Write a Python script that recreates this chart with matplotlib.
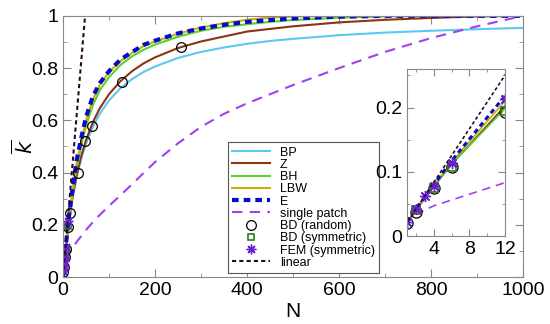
import matplotlib
matplotlib.use("Agg")
import matplotlib.pyplot as plt
from matplotlib.ticker import MultipleLocator, FuncFormatter

plt.rcParams['font.family'] = ['Liberation Sans', 'DejaVu Sans']

# curves sampled along N
curve_N = [0, 1, 2, 4, 6, 12, 20, 30, 40, 50, 65, 80, 100, 125, 150, 175, 200, 250, 300, 350,
           400, 450, 500, 600, 700, 800, 900, 1000]
bp = [0, 0.0204, 0.040, 0.0769, 0.111, 0.200, 0.294, 0.385, 0.455, 0.510, 0.575, 0.625, 0.676,
      0.723, 0.758, 0.785, 0.806, 0.839, 0.862, 0.879, 0.893, 0.904, 0.912, 0.926, 0.936, 0.943,
      0.949, 0.954]
z = [0, 0.0204, 0.0401, 0.0772, 0.1118, 0.202, 0.299, 0.392, 0.465, 0.524, 0.593, 0.646, 0.700,
     0.750, 0.788, 0.818, 0.841, 0.877, 0.902, 0.921, 0.940, 0.950, 0.960, 0.975, 0.985, 0.992,
     0.998, 1.0]
bh = [0, 0.021, 0.041, 0.078, 0.112, 0.198, 0.31, 0.42, 0.505, 0.58, 0.658, 0.715, 0.765, 0.812,
      0.845, 0.87, 0.89, 0.92, 0.943, 0.958, 0.968, 0.977, 0.984, 0.993, 0.998, 1.0, 1.0, 1.0]
lbw = [0, 0.021, 0.042, 0.079, 0.115, 0.21, 0.32, 0.44, 0.52, 0.60, 0.68, 0.735, 0.785, 0.827,
       0.858, 0.884, 0.902, 0.932, 0.955, 0.972, 0.985, 0.993, 0.998, 1.0, 1.0, 1.0, 1.0, 1.0]
e = [0, 0.021, 0.042, 0.08, 0.117, 0.218, 0.33, 0.45, 0.535, 0.612, 0.692, 0.742, 0.788, 0.833,
     0.861, 0.889, 0.905, 0.933, 0.952, 0.966, 0.977, 0.984, 0.99, 0.997, 1.0, 1.0, 1.0, 1.0]
single = [0, 0.021, 0.034, 0.047, 0.056, 0.083, 0.11, 0.135, 0.158, 0.18, 0.21, 0.238, 0.272,
          0.313, 0.355, 0.398, 0.44, 0.512, 0.575, 0.625, 0.665, 0.70, 0.735, 0.80, 0.862, 0.915,
          0.96, 1.0]
lin_N = [0, 48]
lin_k = [0, 1]

# simulation points
bd_rand_N = [1, 2, 4, 6, 12, 16, 32, 48, 64, 128, 256]
bd_rand_k = [0.02, 0.037, 0.075, 0.107, 0.193, 0.245, 0.40, 0.52, 0.58, 0.748, 0.879]
bd_sym_N = [2, 4, 6, 12]
bd_sym_k = [0.04, 0.075, 0.108, 0.195]
fem_N = [1, 2, 3, 4, 6, 12]
fem_k = [0.0215, 0.0415, 0.062, 0.078, 0.114, 0.214]

c_bp = '#5cc8f0'
c_z = '#8b3414'
c_bh = '#5ad22a'
c_lbw = '#c8b000'
c_e = '#0a0ad0'
c_sp = '#a040f0'
c_sym = '#2f7d1a'
c_fem = '#6a20d0'
c_lin = '#2a0a2a'


def draw(ax, big):
    lw = 1.5 if big else 1.2
    ax.plot(curve_N, bp, color=c_bp, lw=lw, label='BP')
    ax.plot(curve_N, z, color=c_z, lw=lw, label='Z')
    ax.plot(curve_N, bh, color=c_bh, lw=lw, label='BH')
    ax.plot(curve_N, lbw, color=c_lbw, lw=lw, label='LBW')
    ax.plot(curve_N, e, color=c_e, lw=3 if big else 2.2, ls=(0, (1.6, 1.2)), label='E')
    ax.plot(curve_N, single, color=c_sp, lw=lw, ls=(0, (5, 3.5)), label='single patch')
    ms = 7 if big else 8
    ax.plot(bd_rand_N, bd_rand_k, 'o', mfc='none', mec='black', mew=0.9, ms=ms, label='BD (random)')
    ax.plot(bd_sym_N, bd_sym_k, 's', mfc='none', mec=c_sym, mew=1.2, ms=ms - 2, label='BD (symmetric)')
    ax.plot(fem_N, fem_k, ls='none', marker=(8, 2, 0), mec=c_fem, mew=1.0, ms=ms, label='FEM (symmetric)')
    ax.plot(lin_N, lin_k, color=c_lin, lw=lw, ls=(0, (2, 1.5)), label='linear')


fig = plt.figure(figsize=(5.5, 3.24), dpi=100)
ax = fig.add_axes([0.1145, 0.145, 0.8365, 0.806])
draw(ax, True)
ax.set_xlim(0, 1000)
ax.set_ylim(0, 1)
ax.xaxis.set_major_locator(MultipleLocator(200))
ax.xaxis.set_minor_locator(MultipleLocator(100))
ax.yaxis.set_major_locator(MultipleLocator(0.2))
ax.yaxis.set_minor_locator(MultipleLocator(0.1))
fmt = FuncFormatter(lambda v, p: ('%g' % round(v, 3)))
ax.yaxis.set_major_formatter(fmt)
ax.tick_params(which='both', direction='in', top=True, right=True, labelsize=14, color='#888888')
ax.tick_params(which='major', length=6)
ax.tick_params(which='minor', length=3)
for s in ax.spines.values():
    s.set_color('#888888')
ax.set_xlabel('N', fontsize=15, labelpad=2)
fig.text(24 / 550, 1 - 147 / 324, r'$\overline{k}$', fontsize=15, rotation=90,
         ha='center', va='center')

leg = ax.legend(loc='lower left', bbox_to_anchor=(0.4145, 0.157), bbox_transform=fig.transFigure,
                fontsize=9, labelspacing=0.02, handlelength=3.0, handletextpad=0.8,
                borderpad=0.35, borderaxespad=0, fancybox=False, framealpha=1, edgecolor='#555555')
leg.get_frame().set_linewidth(0.8)

ins = fig.add_axes([0.74, 0.2716, 0.178, 0.5154])
draw(ins, False)
ins.set_xlim(1, 12)
ins.set_ylim(0, 0.26)
ins.xaxis.set_major_locator(MultipleLocator(4))
ins.xaxis.set_minor_locator(MultipleLocator(2))
ins.yaxis.set_major_locator(MultipleLocator(0.1))
ins.yaxis.set_minor_locator(MultipleLocator(0.05))
ins.yaxis.set_major_formatter(fmt)
ins.tick_params(which='both', direction='in', top=True, right=True, labelsize=14, color='#888888')
ins.tick_params(which='major', length=5)
ins.tick_params(which='minor', length=2.5)
for s in ins.spines.values():
    s.set_color('#888888')

fig.savefig('out.png', dpi=100)
